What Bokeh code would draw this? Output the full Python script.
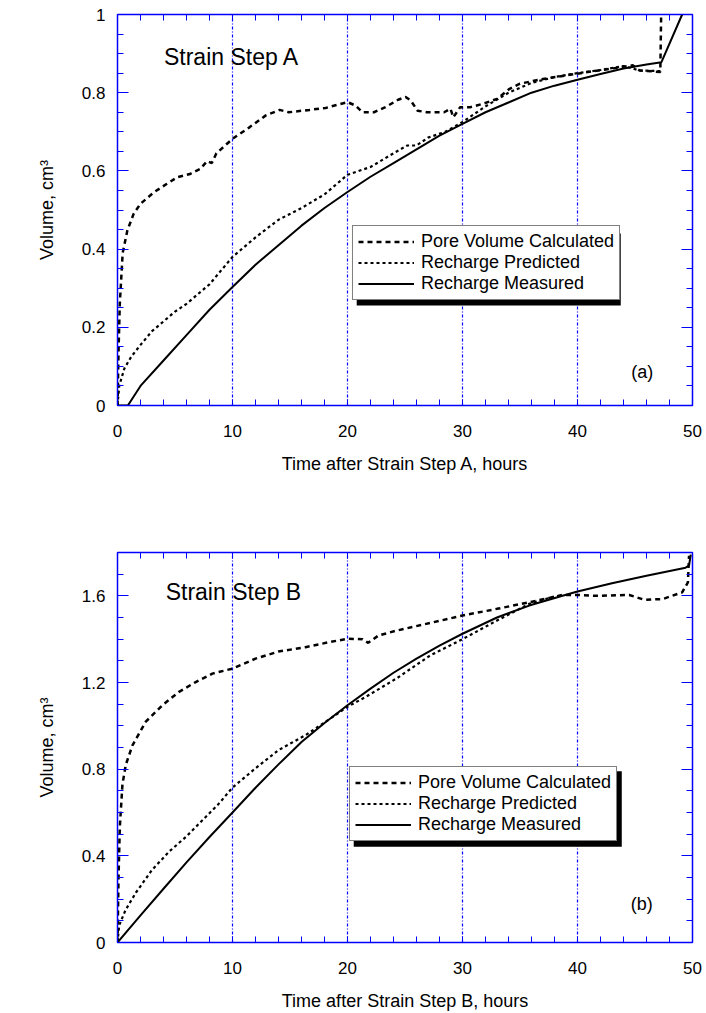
from bokeh.plotting import figure
from bokeh.layouts import column
from bokeh.models import (LinearAxis, FixedTicker, CustomJSTickFormatter, Legend,
                          LegendItem, Label, BoxAnnotation, Range1d)
from bokeh.embed import file_html
from bokeh.resources import INLINE
import numpy as np

FONT = "Liberation Sans"
BLUE = "#0000ff"

# ---------------- data ----------------
SERIES_NAMES = ["Pore Volume Calculated", "Recharge Predicted", "Recharge Measured"]
X_TICKS = [0, 10, 20, 30, 40, 50]
X_GRID = [10, 20, 30, 40]
A_Y_TICKS = [0, 0.2, 0.4, 0.6, 0.8, 1.0]
B_Y_TICKS = [0, 0.4, 0.8, 1.2, 1.6]

# Strain Step A
A_pore_t = [0, 0.1, 0.2, 0.45, 0.86, 1.4, 2, 3.2, 4.3, 5.2, 6.3, 7.2, 7.8, 8.2, 8.6, 10,
            11.5, 12.9, 14.1, 14.9, 16.7, 18.1, 20, 20.7, 21.3, 22.3, 23.3, 24.4, 25.05,
            25.5, 26.1, 26.9, 28.4, 28.95, 29.2, 29.8, 30.7, 31.8, 33, 34.1, 35, 37, 39.8,
            42.8, 44.8, 45.4, 47.2, 47.3]
A_pore_v = [0, 0.15, 0.26, 0.39, 0.448, 0.49, 0.516, 0.546, 0.567, 0.584, 0.592, 0.605,
            0.625, 0.62, 0.645, 0.682, 0.712, 0.742, 0.756, 0.75, 0.756, 0.761, 0.776, 0.767,
            0.75, 0.75, 0.763, 0.782, 0.789, 0.78, 0.754, 0.75, 0.75, 0.759, 0.737, 0.763,
            0.763, 0.772, 0.784, 0.81, 0.823, 0.835, 0.848, 0.861, 0.87, 0.857, 0.853, 1.05]

A_pred_t = [0, 0.15, 0.6, 1.2, 2, 3, 4, 5, 6, 7, 8, 9, 10, 12, 14, 16, 18, 20, 22, 24,
            25.2, 26, 27, 28.5, 30, 32, 34, 36, 38, 40, 42, 44, 45.4, 47.3]
A_pred_v = [0, 0.05, 0.095, 0.125, 0.155, 0.19, 0.215, 0.24, 0.26, 0.285, 0.31, 0.345, 0.38,
            0.43, 0.475, 0.505, 0.54, 0.59, 0.61, 0.645, 0.665, 0.665, 0.685, 0.70, 0.725,
            0.765, 0.80, 0.825, 0.84, 0.85, 0.858, 0.868, 0.857, 0.855]

A_meas_t = [0, 0.9, 2, 4, 6, 8, 10, 12, 14, 16, 18, 20, 22, 24, 26, 28, 30, 32, 34, 36, 38,
            40, 42, 44, 46, 47.3, 49.1]
A_meas_v = [0, 0, 0.05, 0.115, 0.18, 0.245, 0.303, 0.36, 0.41, 0.46, 0.505, 0.546, 0.585,
            0.62, 0.655, 0.69, 0.72, 0.75, 0.775, 0.80, 0.818, 0.833, 0.848, 0.862, 0.872,
            0.878, 1.0]

# Strain Step B
B_pore_t = [0, 0.09, 0.2, 0.43, 0.72, 1.3, 2.46, 3.9, 5.35, 6.8, 8.25, 10, 12, 14, 16.35,
            18.4, 20, 21.3, 21.8, 22.7, 24.3, 27.2, 30, 33, 35.8, 38.7, 40, 41.6, 44.5, 45.8,
            47.4, 49.1, 49.6, 49.7]
B_pore_v = [0, 0.30, 0.53, 0.73, 0.82, 0.91, 1.019, 1.095, 1.157, 1.202, 1.241, 1.264, 1.31,
            1.343, 1.363, 1.386, 1.402, 1.40, 1.383, 1.417, 1.44, 1.475, 1.509, 1.54, 1.57,
            1.604, 1.604, 1.60, 1.604, 1.582, 1.585, 1.616, 1.662, 1.785]

B_pred_t = [0, 0.15, 0.7, 1.6, 3, 4.5, 6, 7.4, 8.8, 10, 12, 14, 16.35, 18.1, 20, 21.6, 24.3,
            27.2, 30, 33, 35.8, 38.2]
B_pred_v = [0, 0.08, 0.15, 0.23, 0.335, 0.42, 0.49, 0.565, 0.64, 0.715, 0.804, 0.888, 0.957,
            1.019, 1.088, 1.134, 1.22, 1.325, 1.40, 1.486, 1.563, 1.60]

B_meas_t = [0, 2, 4, 6, 8, 10, 12, 14, 16, 18, 20, 22, 24, 26, 28, 30, 33, 35.8, 38.7, 40,
            43, 46, 49.4, 49.7, 49.85]
B_meas_v = [0, 0.125, 0.248, 0.37, 0.487, 0.6, 0.714, 0.822, 0.925, 1.013, 1.095, 1.172,
            1.245, 1.31, 1.37, 1.425, 1.50, 1.555, 1.60, 1.62, 1.658, 1.693, 1.73, 1.74, 1.79]


def style_axis(ax, show_labels, major_in):
    ax.axis_line_color = BLUE
    ax.axis_line_width = 1
    ax.major_tick_line_color = BLUE
    ax.minor_tick_line_color = BLUE
    ax.major_tick_in = major_in
    ax.major_tick_out = 0
    ax.minor_tick_in = 6
    ax.minor_tick_out = 0
    ax.major_label_text_font = FONT
    ax.major_label_text_font_size = "17px"
    ax.major_label_text_color = "black"
    ax.axis_label_text_font = FONT
    ax.axis_label_text_font_size = "18px"
    ax.axis_label_text_font_style = "normal"
    ax.axis_label_text_color = "black"
    if show_labels:
        ax.formatter = CustomJSTickFormatter(code="return String(Math.round(tick*100)/100);")
    else:
        ax.formatter = CustomJSTickFormatter(code="return '';")
        ax.major_label_standoff = 0


def make_panel(height, ymax, yticks, yminor_step, borders, series, xlabel,
               title, title_pos, tag, tag_pos, legend_loc, shadow_box):
    left, right, top, bottom = borders
    p = figure(width=706, height=height, x_range=Range1d(0, 50), y_range=Range1d(0, ymax),
               output_backend="svg", toolbar_location=None,
               min_border_left=left, min_border_right=right,
               min_border_top=top, min_border_bottom=bottom)
    p.background_fill_color = "white"
    p.border_fill_color = "white"
    p.outline_line_color = BLUE
    p.outline_line_width = 1.5

    xt = FixedTicker(ticks=X_TICKS, minor_ticks=list(np.arange(0, 50.01, 2)))
    yt = FixedTicker(ticks=yticks, minor_ticks=list(np.round(np.arange(0, ymax + 1e-9, yminor_step), 4)))

    p.xaxis.ticker = xt
    p.yaxis.ticker = yt
    for ax in p.xaxis:
        style_axis(ax, True, 6)
        ax.axis_label = xlabel
        ax.major_label_standoff = 19
        ax.axis_label_standoff = 14
    for ax in p.yaxis:
        style_axis(ax, True, 11)
        ax.axis_label = "Volume, cm³"
        ax.major_label_standoff = 12
        ax.axis_label_standoff = 22

    ax_top = LinearAxis(ticker=xt)
    style_axis(ax_top, False, 6)
    p.add_layout(ax_top, "above")
    ax_right = LinearAxis(ticker=yt)
    style_axis(ax_right, False, 11)
    p.add_layout(ax_right, "right")

    p.ygrid.visible = False
    p.xgrid.ticker = FixedTicker(ticks=X_GRID)
    p.xgrid.grid_line_color = BLUE
    p.xgrid.grid_line_width = 1.2
    p.xgrid.grid_line_dash = "3 2 1 2"

    (pt, pv), (rt, rv), (mt, mv) = series
    r1 = p.line(pt, pv, line_color="black", line_width=2.5, line_dash="5 4")
    r2 = p.line(rt, rv, line_color="black", line_width=2.2, line_dash="3 3")
    r3 = p.line(mt, mv, line_color="black", line_width=2)

    p.add_layout(Label(x=title_pos[0], y=title_pos[1], text=title, text_font=FONT,
                       text_font_size="23px", text_baseline="middle", text_color="black"))
    p.add_layout(Label(x=tag_pos[0], y=tag_pos[1], text=tag, text_font=FONT,
                       text_font_size="18px", text_baseline="middle", text_color="black"))

    l, r_, b, t = shadow_box
    p.add_layout(BoxAnnotation(left=l, right=r_, bottom=b, top=t, fill_color="black",
                               fill_alpha=1, line_color=None))

    legend = Legend(items=[LegendItem(label=SERIES_NAMES[0], renderers=[r1]),
                           LegendItem(label=SERIES_NAMES[1], renderers=[r2]),
                           LegendItem(label=SERIES_NAMES[2], renderers=[r3])],
                    location=legend_loc,
                    label_text_font=FONT, label_text_font_size="18px",
                    label_text_color="black",
                    glyph_width=56, glyph_height=19, label_height=19, label_standoff=7,
                    spacing=0, padding=5, margin=0,
                    border_line_color="black", border_line_width=1.5,
                    background_fill_color="white", background_fill_alpha=1)
    p.add_layout(legend)
    return p


pA = make_panel(480, 1.0, A_Y_TICKS, 0.05, (117, 12, 14, 75),
                [(A_pore_t, A_pore_v), (A_pred_t, A_pred_v), (A_meas_t, A_meas_v)],
                "Time after Strain Step A, hours",
                "Strain Step A", (4.04, 0.891), "(a)", (44.68, 0.085),
                (235, 105), (20.8, 43.76, 0.256, 0.44))

pB = make_panel(533, 1.8, B_Y_TICKS, 0.1, (115, 14, 72, 70),
                [(B_pore_t, B_pore_v), (B_pred_t, B_pred_v), (B_meas_t, B_meas_v)],
                "Time after Strain Step B, hours",
                "Strain Step B", (4.19, 1.619), "(b)", (44.63, 0.176),
                (232, 101), (20.54, 43.85, 0.442, 0.79))

layout = column(pA, pB, spacing=0)
open("out.html", "w").write(file_html(layout, INLINE))
